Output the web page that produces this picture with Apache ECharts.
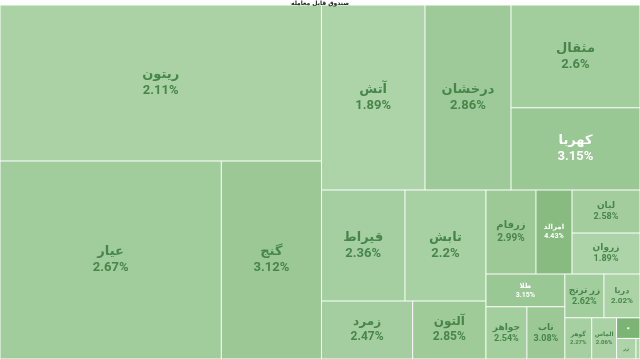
<!DOCTYPE html>
<html><head><meta charset="utf-8">
<script src="https://cdn.jsdelivr.net/npm/echarts@6/dist/echarts.min.js"></script>
<style>html,body{margin:0;padding:0;background:#fff}#c{width:640px;height:359px}</style>
</head><body><div id="c"></div>
<script>
const chartTitle = 'صندوق قابل معامله';
const names = ['ریتون','عیار','گنج','آتش','درخشان','مثقال','کهربا','قیراط','تابش','زمرد','آلتون','زرفام','امرالد','لیان','زروان','طلا','جواهر','ناب','زر ترنج','دریا','گوهر','الماس','ه','زر','نفیس'];
const values = [50154,43817,19840,19148,15910,13248,10617,9269,8991,5290,4251,4200,3024,2924,2788,2583,2144,1987,1716,1584,1107,1025,483,399,84];
const changes = [2.11,2.67,3.12,1.89,2.86,2.6,3.15,2.36,2.2,2.47,2.85,2.99,4.43,2.58,1.89,3.15,2.54,3.08,2.62,2.02,2.27,2.06,5.14,1.66,1.8];
// grouping of the funds (structure only)
const groups = [
  ['ریتون', ['عیار','گنج']],
  [
    ['آتش','درخشان',['مثقال','کهربا']],
    [
      ['قیراط','تابش','زمرد','آلتون'],
      [
        ['زرفام','امرالد',['لیان','زروان']],
        [
          ['طلا',['جواهر','ناب']],
          [['زر ترنج','دریا'],['گوهر','الماس','ه','زر','نفیس']]
        ]
      ]
    ]
  ]
];
// label sizes (style only)
const labelSize = {'ریتون':13,'عیار':13,'گنج':13,'آتش':13,'درخشان':13,'مثقال':13,'کهربا':13,'قیراط':13,'تابش':13,'زمرد':12,'آلتون':12,'زرفام':10,'امرالد':7,'لیان':9,'زروان':9,'طلا':7,'جواهر':9,'ناب':9,'زر ترنج':9,'دریا':8,'گوهر':6,'الماس':6,'ه':5,'زر':5,'نفیس':0};

const lo=[173,212,168], hi=[135,187,128];
function colorFor(p){
  let t=(p-1.89)/(4.43-1.89); t=Math.max(0,Math.min(1.3,t));
  const c=lo.map((v,i)=>Math.round(v+(hi[i]-v)*t));
  return 'rgb('+c.join(',')+')';
}
function build(node){
  if(typeof node==='string'){
    const i=names.indexOf(node);
    const fs=labelSize[node];
    return {name:node, value:values[i], pct:changes[i],
      itemStyle:{color:colorFor(changes[i]), borderColor:'rgba(255,255,255,0.8)', borderWidth:0.5},
      label:{show:fs>0, fontSize:fs||1, lineHeight:Math.round((fs||1)*1.25), color: changes[i]>=3.13?'#ffffff':'#47864a'}};
  }
  return {name:'', children:node.map(build), itemStyle:{borderWidth:0,gapWidth:0}};
}
const chart=echarts.init(document.getElementById('c'));
chart.setOption({
  animation:false,
  title:{text:chartTitle,left:'center',top:0,padding:0,textStyle:{fontSize:6,fontWeight:'bold',color:'#222',fontFamily:'"DejaVu Sans", sans-serif'}},
  series:[{
    type:'treemap', left:0, top:5, right:0, bottom:0, sort:false, squareRatio:1, roam:false, nodeClick:false,
    breadcrumb:{show:false}, upperLabel:{show:false},
    itemStyle:{borderWidth:0,gapWidth:0},
    label:{show:true, position:'inside', overflow:'none', fontWeight:'bold', fontFamily:'Roboto, "DejaVu Sans", sans-serif',
      formatter:p=>p.name+'\n'+p.data.pct+'%'},
    data: groups.map(build)
  }]
});
</script></body></html>
